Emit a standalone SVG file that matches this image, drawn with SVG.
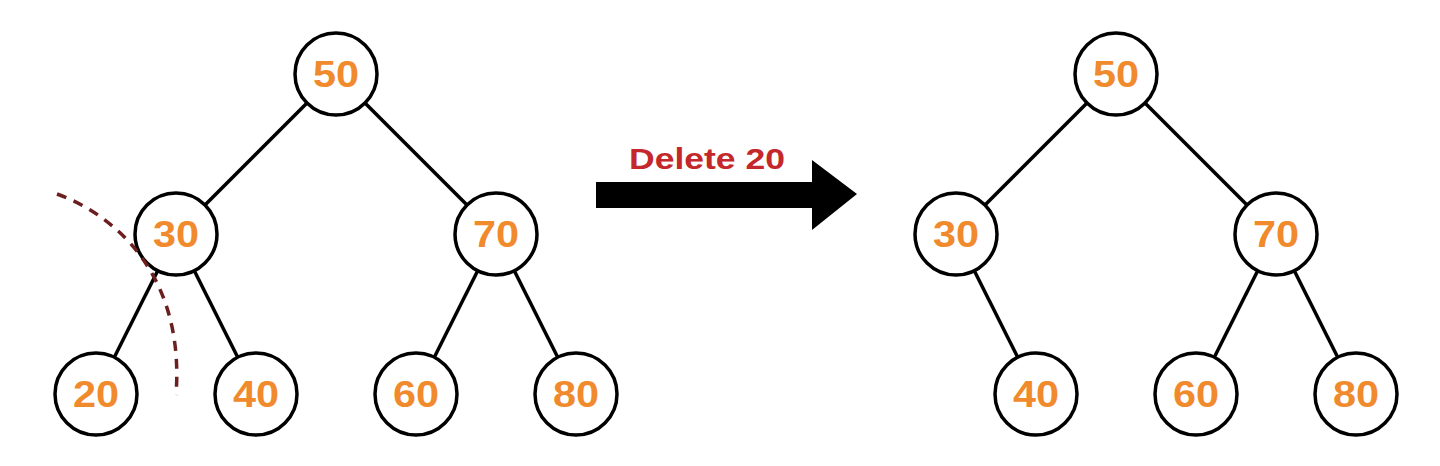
<svg xmlns="http://www.w3.org/2000/svg" width="1440" height="466" viewBox="0 0 1440 466">
<style>
.node circle{fill:#ffffff;stroke:#000000;stroke-width:3.5}
.node text{font-family:"Liberation Sans",Arial,sans-serif;font-weight:bold;font-size:37px;fill:#f08a2c;text-anchor:middle}
.edge{stroke:#000000;stroke-width:3.5;fill:none}
.cut{stroke:#6b1f1f;stroke-width:3.5;fill:none;stroke-dasharray:10 8}
.label{font-family:"Liberation Sans",Arial,sans-serif;font-weight:bold;font-size:29px;fill:#c4282a;text-anchor:middle}
</style>
<rect width="1440" height="466" fill="#ffffff"/>
<g id="connectors">
<line class="edge" x1="307" y1="103" x2="205" y2="205"/>
<line class="edge" x1="365" y1="103" x2="467" y2="205"/>
<line class="edge" x1="157.7" y1="270.7" x2="114.3" y2="357.3"/>
<line class="edge" x1="194.3" y1="270.7" x2="237.7" y2="357.3"/>
<line class="edge" x1="477.7" y1="270.7" x2="434.3" y2="357.3"/>
<line class="edge" x1="514.3" y1="270.7" x2="557.7" y2="357.3"/>
<line class="edge" x1="1087" y1="103" x2="985" y2="205"/>
<line class="edge" x1="1145" y1="103" x2="1247" y2="205"/>
<line class="edge" x1="974.3" y1="270.7" x2="1017.7" y2="357.3"/>
<line class="edge" x1="1257.7" y1="270.7" x2="1214.3" y2="357.3"/>
<line class="edge" x1="1294.3" y1="270.7" x2="1337.7" y2="357.3"/>
</g>
<g id="left-tree">
<g id="L50" class="node"><circle cx="336" cy="74" r="41"/><text x="336" y="87" textLength="46" lengthAdjust="spacingAndGlyphs">50</text></g>
<g id="L30" class="node"><circle cx="176" cy="234" r="41"/><text x="176" y="247" textLength="46" lengthAdjust="spacingAndGlyphs">30</text></g>
<g id="L70" class="node"><circle cx="496" cy="234" r="41"/><text x="496" y="247" textLength="46" lengthAdjust="spacingAndGlyphs">70</text></g>
<g id="L20" class="node"><circle cx="96" cy="394" r="41"/><text x="96" y="407" textLength="46" lengthAdjust="spacingAndGlyphs">20</text></g>
<g id="L40" class="node"><circle cx="256" cy="394" r="41"/><text x="256" y="407" textLength="46" lengthAdjust="spacingAndGlyphs">40</text></g>
<g id="L60" class="node"><circle cx="416" cy="394" r="41"/><text x="416" y="407" textLength="46" lengthAdjust="spacingAndGlyphs">60</text></g>
<g id="L80" class="node"><circle cx="576" cy="394" r="41"/><text x="576" y="407" textLength="46" lengthAdjust="spacingAndGlyphs">80</text></g>
</g>
<g id="cut-line">
<path class="cut" d="M57 194 C115 215 185 275 176 395"/>
</g>
<g id="delete-arrow">
<polygon points="596,182 812,182 812,160 857,194 812,230 812,208 596,208" fill="#000000"/>
<text class="label" x="707" y="169" textLength="156" lengthAdjust="spacingAndGlyphs">Delete 20</text>
</g>
<g id="right-tree">
<g id="R50" class="node"><circle cx="1116" cy="74" r="41"/><text x="1116" y="87" textLength="46" lengthAdjust="spacingAndGlyphs">50</text></g>
<g id="R30" class="node"><circle cx="956" cy="234" r="41"/><text x="956" y="247" textLength="46" lengthAdjust="spacingAndGlyphs">30</text></g>
<g id="R70" class="node"><circle cx="1276" cy="234" r="41"/><text x="1276" y="247" textLength="46" lengthAdjust="spacingAndGlyphs">70</text></g>
<g id="R40" class="node"><circle cx="1036" cy="394" r="41"/><text x="1036" y="407" textLength="46" lengthAdjust="spacingAndGlyphs">40</text></g>
<g id="R60" class="node"><circle cx="1196" cy="394" r="41"/><text x="1196" y="407" textLength="46" lengthAdjust="spacingAndGlyphs">60</text></g>
<g id="R80" class="node"><circle cx="1356" cy="394" r="41"/><text x="1356" y="407" textLength="46" lengthAdjust="spacingAndGlyphs">80</text></g>
</g>
</svg>
